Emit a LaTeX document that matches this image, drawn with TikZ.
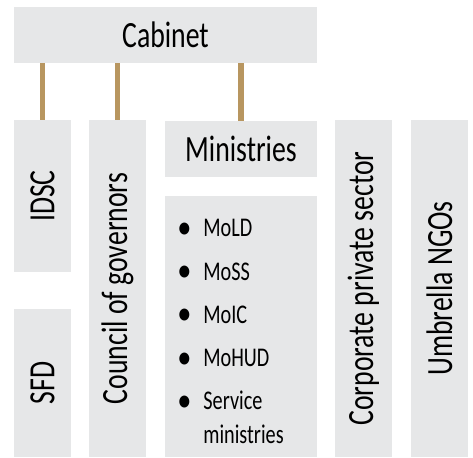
\documentclass[tikz,border=0pt]{standalone}
\usepackage{fontspec}
\setmainfont[FakeStretch=0.75]{Carlito}
\usepackage{tikz}
\definecolor{gris}{RGB}{230,231,232}
\definecolor{dorado}{RGB}{184,150,96}
\newcommand{\punto}{\makebox[13pt][l]{\raisebox{-0.8pt}{\scalebox{1.4}[1.25]{\textbullet}}}}

\begin{document}
\begin{tikzpicture}[x=0.5pt,y=-0.5pt,
	caja/.style={fill=gris,inner sep=0pt,font=\fontsize{18.5pt}{21pt}\selectfont},
	conector/.style={dorado,line width=2.8pt}]
\useasboundingbox (0,0) rectangle (473,458);

%Caja de arriba
\node[caja,minimum width=151.5pt,minimum height=28pt] (cabinet) at (165.5,35) {Cabinet};

%Cajas verticales
\node[caja,minimum width=28.5pt,minimum height=76pt] (idsc) at (42.5,196) {\rotatebox{90}{IDSC}};
\node[caja,minimum width=28.5pt,minimum height=74pt] (sfd) at (42.5,383) {\rotatebox{90}{SFD}};
\node[caja,minimum width=28.5pt,minimum height=168.5pt] (council) at (117.5,288.5) {\rotatebox{90}{Council of governors}};
\node[caja,minimum width=28.5pt,minimum height=168.5pt] (corp) at (363.5,288.5) {\rotatebox{90}{Corporate private sector}};
\node[caja,minimum width=28.5pt,minimum height=168.5pt] (ngo) at (439.5,288.5) {\rotatebox{90}{Umbrella NGOs}};

%Ministerios y su lista
\node[caja,minimum width=76pt,minimum height=28pt] (min) at (241,149) {Ministries};
\node[caja,minimum width=76pt,minimum height=130.5pt] (minbox) at (241,326.5) {};
\node[anchor=base west,inner sep=0pt,font=\fontsize{13.5pt}{17pt}\selectfont] (lista) at (177,237)
	{\begin{tabular}[t]{@{}l@{}l@{}}
	\punto & MoLD\\[4.6pt]
	\punto & MoSS\\[4.6pt]
	\punto & MoIC\\[4.6pt]
	\punto & MoHUD\\[4.6pt]
	\punto & Service\\
	 & ministries
	\end{tabular}};

%Lineas que bajan del gabinete
\foreach \n in {idsc,council,min}
	\draw[conector] (cabinet.south -| \n.north) -- (\n.north);
\end{tikzpicture}
\end{document}
